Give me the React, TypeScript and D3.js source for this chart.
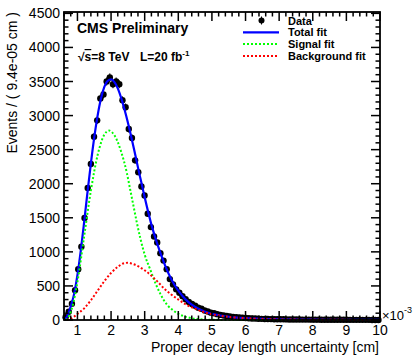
import React from "react";
import * as d3 from "d3";

// ---- data (x in units of 1e-3 cm) ----
const X_MIN = 0.6;
const X_MAX = 10.0;
const Y_MAX = 4520;
const N_BINS = 100;

const dataCounts = [
  40, 122, 240, 437, 745, 1074, 1496, 1937, 2290, 2690,
  2930, 3250, 3310, 3500, 3560, 3460, 3500, 3460, 3225, 3122,
  2804, 2672, 2343, 2170, 1960, 1828, 1559, 1363, 1225, 1137,
  981, 872, 746, 600, 520, 450, 400, 350, 305, 265,
  235, 210, 180, 165, 140, 125, 108, 98, 86, 75,
  66, 58, 52, 46, 40, 36, 33, 29, 26, 23,
  21, 19, 17, 15, 14, 13, 12, 11, 10, 10,
  9, 8, 8, 7, 7, 6, 6, 6, 5, 5,
  5, 4, 4, 4, 4, 3, 3, 3, 3, 3,
  2, 2, 2, 2, 2, 2, 2, 1, 1, 1,
];

const totalX = [0.62, 0.7, 0.8, 0.9, 1.0, 1.1, 1.2, 1.3, 1.4, 1.5, 1.6, 1.7, 1.8, 1.9, 2.0, 2.1, 2.2, 2.3, 2.4, 2.5, 2.6, 2.7, 2.8, 2.9, 3.0, 3.2, 3.4, 3.6, 3.8, 4.0, 4.2, 4.4, 4.6, 4.8, 5.0, 5.25, 5.5, 5.75, 6.0, 6.5, 7.0, 8.0, 9.0, 10.0];
const totalY = [0, 60, 200, 380, 660, 1020, 1440, 1880, 2300, 2680, 3000, 3250, 3420, 3510, 3530, 3490, 3400, 3260, 3090, 2900, 2690, 2470, 2240, 2020, 1800, 1400, 1080, 810, 590, 430, 310, 225, 165, 122, 92, 66, 48, 36, 28, 17, 11, 5, 3, 2];

const signalX = [0.66, 0.75, 0.85, 1.0, 1.2, 1.4, 1.6, 1.8, 1.94, 2.1, 2.3, 2.47, 2.57, 2.67, 2.77, 2.87, 3.0, 3.17, 3.32, 3.47, 3.67, 3.8, 4.0, 4.2, 4.4, 4.6, 4.8, 5.0, 6.0, 7.0, 8.0, 9.0, 10.0];
const signalY = [0, 60, 200, 560, 1230, 1900, 2420, 2720, 2780, 2710, 2470, 2157, 1912, 1666, 1422, 1200, 960, 735, 540, 380, 221, 160, 90, 50, 26, 13, 6, 3, 0, 0, 0, 0, 0];

const bkgX = [0.68, 0.8, 0.9, 1.0, 1.2, 1.4, 1.6, 1.8, 2.0, 2.2, 2.4, 2.5, 2.6, 2.8, 3.0, 3.2, 3.4, 3.6, 3.8, 4.0, 4.2, 4.4, 4.6, 4.8, 5.0, 5.25, 5.5, 5.75, 6.0, 6.5, 7.0, 8.0, 9.0, 10.0];
const bkgY = [0, 20, 50, 90, 170, 290, 430, 570, 690, 780, 835, 840, 830, 790, 730, 650, 555, 450, 370, 300, 235, 185, 145, 110, 85, 62, 45, 34, 26, 15, 9, 4, 2, 1];

const xTickLabels = ["1", "2", "3", "4", "5", "6", "7", "8", "9", "10"];
const yTickLabels = ["0", "500", "1000", "1500", "2000", "2500", "3000", "3500", "4000", "4500"];

const legendItems = [
  { label: "Data", kind: "marker", color: "#000000" },
  { label: "Total fit", kind: "solid", color: "#0000ff" },
  { label: "Signal fit", kind: "dotted", color: "#00ff00" },
  { label: "Background fit", kind: "dotted", color: "#ff0000" },
];

const FONT = "'Liberation Sans', Arial, Helvetica, sans-serif";

export default function App() {
  const W = 417, H = 358;
  const L = 64, R = 380, T = 12, B = 320;

  const x = d3.scaleLinear().domain([X_MIN, X_MAX]).range([L, R]);
  const y = d3.scaleLinear().domain([0, Y_MAX]).range([B, T]);
  const binW = (X_MAX - X_MIN) / N_BINS;

  const mk = (xs: number[], ys: number[]) =>
    d3
      .line<number>()
      .x((_, i) => x(xs[i]))
      .y((_, i) => y(ys[i]))
      .curve(d3.curveMonotoneX)(ys) || "";

  const xMajor = xTickLabels.map(Number);
  const xMinor = d3.range(0.6, 10.001, 0.2).filter((v) => Math.abs(v - Math.round(v)) > 1e-6);
  const yMajor = yTickLabels.map(Number);
  const yMinor = d3.range(0, 4520, 100).filter((v) => v % 500 !== 0);

  const majL = 9, minL = 4.5;

  return (
    <svg width={W} height={H} style={{ position: "absolute", left: 0, top: 0, background: "#fff" }} fontFamily={FONT}>
      <rect x={0} y={0} width={W} height={H} fill="#fff" />
      {/* data */}
      <g>
        {dataCounts.map((c, i) => {
          const cx = x(X_MIN + binW * (i + 0.5));
          const e = Math.sqrt(c);
          return (
            <g key={i}>
              <line x1={cx} x2={cx} y1={y(Math.max(0, c - e))} y2={y(c + e)} stroke="#000" strokeWidth={1} />
              <circle cx={cx} cy={y(c)} r={3.2} fill="#000" />
            </g>
          );
        })}
      </g>
      {/* fits */}
      <path d={mk(totalX, totalY)} fill="none" stroke="#0000ff" strokeWidth={2.2} />
      <path d={mk(signalX, signalY)} fill="none" stroke="#00ff00" strokeWidth={2} strokeDasharray="2 2" />
      <path d={mk(bkgX, bkgY)} fill="none" stroke="#ff0000" strokeWidth={2} strokeDasharray="2 2" />

      {/* frame */}
      <rect x={L} y={T} width={R - L} height={B - T} fill="none" stroke="#000" strokeWidth={1.8} />
      {/* x ticks */}
      {xMajor.map((v) => (
        <g key={"xM" + v}>
          <line x1={x(v)} x2={x(v)} y1={B} y2={B - majL} stroke="#000" strokeWidth={1.5} />
          <line x1={x(v)} x2={x(v)} y1={T} y2={T + majL} stroke="#000" strokeWidth={1.5} />
        </g>
      ))}
      {xMinor.map((v) => (
        <g key={"xm" + v}>
          <line x1={x(v)} x2={x(v)} y1={B} y2={B - minL} stroke="#000" strokeWidth={1.5} />
          <line x1={x(v)} x2={x(v)} y1={T} y2={T + minL} stroke="#000" strokeWidth={1.5} />
        </g>
      ))}
      {/* y ticks */}
      {yMajor.map((v) => (
        <g key={"yM" + v}>
          <line x1={L} x2={L + majL} y1={y(v)} y2={y(v)} stroke="#000" strokeWidth={1.5} />
          <line x1={R} x2={R - majL} y1={y(v)} y2={y(v)} stroke="#000" strokeWidth={1.5} />
        </g>
      ))}
      {yMinor.map((v) => (
        <g key={"ym" + v}>
          <line x1={L} x2={L + minL} y1={y(v)} y2={y(v)} stroke="#000" strokeWidth={1.5} />
          <line x1={R} x2={R - minL} y1={y(v)} y2={y(v)} stroke="#000" strokeWidth={1.5} />
        </g>
      ))}
      {/* tick labels */}
      {xTickLabels.map((t) => (
        <text key={"xl" + t} x={x(Number(t))} y={335} fontSize={14} textAnchor="middle" fill="#000">{t}</text>
      ))}
      {yTickLabels.map((t) => (
        <text key={"yl" + t} x={60} y={y(Number(t)) + 5} fontSize={14} textAnchor="end" fill="#000">{t}</text>
      ))}
      {/* exponent */}
      <text x={382} y={320} fontSize={13} fill="#000">
        ×10
        <tspan dy={-7} fontSize={9}>-3</tspan>
      </text>
      {/* axis titles */}
      <text x={379} y={352} fontSize={14} textAnchor="end" fill="#000">Proper decay length uncertainty [cm]</text>
      <text transform="translate(17,12) rotate(-90)" fontSize={14} textAnchor="end" fill="#000">Events / ( 9.4e-05 cm )</text>

      {/* labels */}
      <text x={77} y={33} fontSize={14} fontWeight="bold" fill="#000">CMS Preliminary</text>
      <text x={78} y={61} fontSize={12} fontWeight="bold" fill="#000">
        √<tspan style={{ textDecoration: "overline" }}>s</tspan>=8 TeV
      </text>
      <text x={140} y={61} fontSize={12} fontWeight="bold" fill="#000">
        L=20 fb<tspan dy={-5} fontSize={8}>-1</tspan>
      </text>

      {/* legend */}
      {legendItems.map((it, i) => {
        const ly = 20.5 + i * 11.8;
        return (
          <g key={it.label}>
            {it.kind === "marker" && <circle cx={261.5} cy={ly} r={3} fill="#000" />}
            {it.kind === "marker" && <line x1={261.5} x2={261.5} y1={ly - 4} y2={ly + 4} stroke="#000" strokeWidth={1} />}
            {it.kind === "solid" && <line x1={243} x2={279} y1={ly} y2={ly} stroke={it.color} strokeWidth={2.2} />}
            {it.kind === "dotted" && (
              <line x1={243} x2={279} y1={ly} y2={ly} stroke={it.color} strokeWidth={2} strokeDasharray="2 2" />
            )}
            <text x={288} y={ly + 4} fontSize={11} fontWeight="bold" fill="#000">{it.label}</text>
          </g>
        );
      })}
    </svg>
  );
}
